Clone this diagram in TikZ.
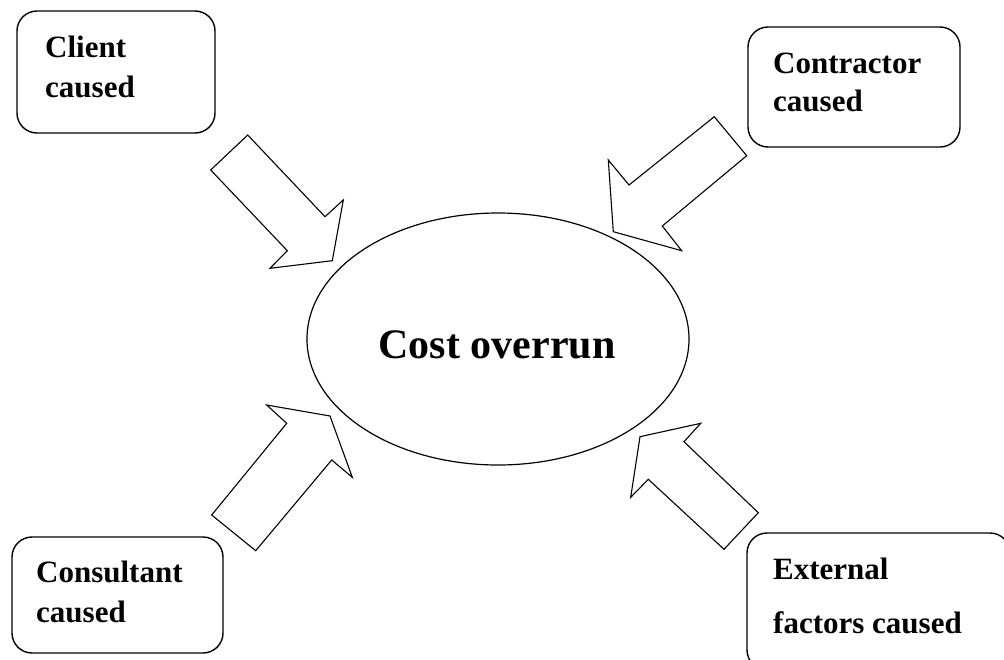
\documentclass[tikz,border=0pt]{standalone}
\usepackage{fontspec}
\setmainfont{Liberation Serif}
\usetikzlibrary{shapes.geometric}
\tikzset{
  box/.style={draw, line width=1.4pt, rounded corners=20pt, inner sep=0pt},
  lbl/.style={anchor=base west, inner sep=0pt, font=\fontsize{31}{38}\selectfont\bfseries},
  blockarrow/.style={draw, line width=1.1pt, line join=miter, fill=white},
  oval/.style={draw, ellipse, line width=1.2pt, inner sep=0pt}
}
\begin{document}
\begin{tikzpicture}[x=1pt,y=-1pt]
\useasboundingbox (0,0) rectangle (1004,659);
\clip (0,0) rectangle (1004,659);
% boxes
\node[box, minimum width=198pt, minimum height=122pt] (client) at (116,72) {};
\node[box, minimum width=212pt, minimum height=120pt] (contractor) at (854,87) {};
\node[box, minimum width=211pt, minimum height=116pt] (consultant) at (117.5,595) {};
\node[box, minimum width=263pt, minimum height=137pt] (external) at (878.5,601.5) {};
% labels
\node[lbl] (t1a) at (45,57) {Client};
\node[lbl] (t1b) at (45,97) {caused};
\node[lbl] (t2a) at (773,73) {Contractor};
\node[lbl] (t2b) at (773,111) {caused};
\node[lbl] (t3a) at (36,582) {Consultant};
\node[lbl] (t3b) at (36,622) {caused};
\node[lbl] (t4a) at (773,579) {External};
\node[lbl] (t4b) at (773,633) {factors caused};
% ellipse
\node[oval, minimum width=382pt, minimum height=252pt] (cost) at (498,339) {};
\node[anchor=base, inner sep=0pt, font=\fontsize{42}{50}\selectfont\bfseries] (costtxt) at (497,358) {Cost overrun};
% block arrows
\draw[blockarrow] (210.7,170) -- (247.7,135) -- (325,216.7) -- (343.3,200) -- (332.3,260.7) -- (270,268.3) -- (287.3,250.7) -- cycle;
\draw[blockarrow] (714.3,116.7) -- (746.7,155.7) -- (662.3,226) -- (681.7,250.7) -- (613.3,231.7) -- (608.3,160) -- (629,185) -- cycle;
\draw[blockarrow] (211.7,515) -- (255.7,550.7) -- (331.7,460) -- (352.3,477.3) -- (330,416) -- (266.7,405) -- (286.7,423.3) -- cycle;
\draw[blockarrow] (758.3,512.7) -- (724,549.3) -- (648.3,479.3) -- (630.7,497.3) -- (640,436.7) -- (700.7,423.3) -- (684,441.7) -- cycle;
\end{tikzpicture}
\end{document}
